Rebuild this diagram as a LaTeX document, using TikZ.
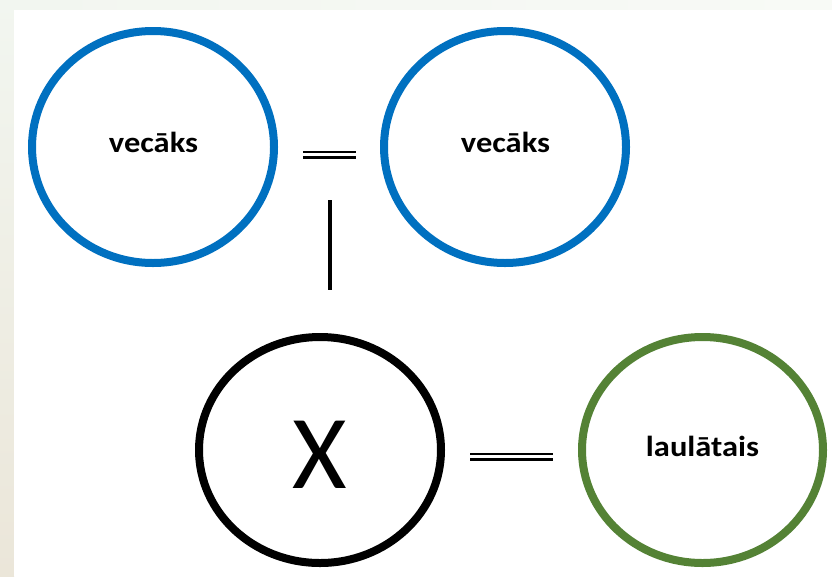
\documentclass[tikz,border=0pt]{standalone}
\usepackage{fontspec}
\setmainfont{Carlito}
\usetikzlibrary{shapes.geometric}
\definecolor{pblue}{HTML}{0070C0}
\definecolor{pgreen}{HTML}{548235}
\definecolor{stripA}{HTML}{F2F6F0}
\definecolor{stripB}{HTML}{EBE6D9}
\definecolor{stripC}{HTML}{F8FAF6}
\tikzset{
  personbox/.style={ellipse, draw, line width=8pt, inner sep=0pt, minimum width=242pt, minimum height=232pt},
  nametext/.style={font=\bfseries\fontsize{29}{31}\selectfont, inner sep=0pt, anchor=base, xscale=1.12},
  bondline/.style={double, double distance=3.2pt, line width=2.4pt, line cap=butt},
  descentline/.style={line width=3.5pt, line cap=butt}
}
\begin{document}
\begin{tikzpicture}[x=1pt,y=-1pt]
\useasboundingbox (0,0) rectangle (832,576);
\fill[stripA] (0,0) rectangle (832,576);
\shade[top color=stripA, bottom color=stripB] (0,0) rectangle (14,576);
\shade[left color=stripA, right color=stripC] (14,0) rectangle (832,10);
\fill[white] (14,10) rectangle (832,576);
% people
\node[personbox, draw=pblue] (p1) at (153,147) {};
\node[personbox, draw=pblue] (p2) at (505,147) {};
\node[personbox, draw=black, minimum height=226pt] (x) at (320,450) {};
\node[personbox, draw=pgreen, minimum width=241pt, minimum height=226pt] (sp) at (702.5,450) {};
% names
\node[nametext] (n1) at (153.5,152) {vecāks};
\node[nametext] (n2) at (505.5,152) {vecāks};
\node[nametext, xscale=1/1.12, font=\fontsize{105}{110}\selectfont] (nx) at (320,488) {X};
\node[nametext] (ns) at (702.5,456.5) {laulātais};
% connectors
\coordinate (t1) at (303,154.5);
\coordinate (t2) at (356,154.5);
\coordinate (v1) at (330,200);
\coordinate (v2) at (330,290);
\coordinate (b1) at (470,456.5);
\coordinate (b2) at (553,456.5);
\draw[bondline] (t1) -- (t2);
\draw[descentline] (v1) -- (v2);
\draw[bondline] (b1) -- (b2);
\end{tikzpicture}
\end{document}
